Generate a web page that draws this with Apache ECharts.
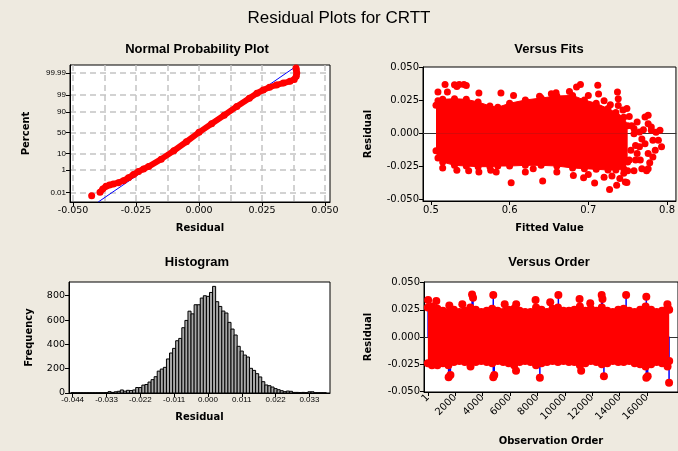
<!DOCTYPE html>
<html><head><meta charset="utf-8">
<script src="https://cdn.jsdelivr.net/npm/echarts@6/dist/echarts.min.js"></script>
<style>html,body{margin:0;padding:0;background:#EEEAE0;}#c{width:678px;height:451px;}</style>
</head><body><div id="c"></div>
<script>
// ---------- Normal probability plot ----------
const probTickPct = [0.01, 1, 10, 50, 90, 99, 99.99];
const probTickLabels = ['0.01', '1', '10', '50', '90', '99', '99.99'];
const residTicks = [-0.05, -0.025, 0, 0.025, 0.05];
const probGridX = [-0.05, -0.0375, -0.025, -0.0125, 0, 0.0125, 0.025, 0.0375, 0.05];
const probLowResid = [-0.0426];
const probLowScore = [-3.91];
const probResid = [-0.0393,-0.0382,-0.0369,-0.0355,-0.0340,-0.0320,-0.0300,-0.0280,-0.0260,-0.0240,-0.0220,-0.0200,-0.0150,-0.0100,-0.0050,0.0000,0.0050,0.0100,0.0150,0.0200,0.0230,0.0255,0.0280,0.0308,0.0335,0.0361,0.0378,0.0386,0.0388,0.0386,0.0385];
const probScore = [-3.70,-3.50,-3.33,-3.24,-3.19,-3.10,-2.98,-2.80,-2.60,-2.40,-2.25,-2.10,-1.64,-1.12,-0.56,0.02,0.55,1.08,1.62,2.14,2.45,2.65,2.82,2.96,3.08,3.19,3.30,3.50,3.70,3.90,4.02];
const fitLineResid = [-0.0400, 0.0393];
const fitLineScore = [-4.30, 4.20];

// ---------- Histogram ----------
const histTicks = [-0.044, -0.033, -0.022, -0.011, 0, 0.011, 0.022, 0.033];
const histFreqTicks = [0, 200, 400, 600, 800];
const histBinWidth = 0.001;
const histBinCenters = [-0.044,-0.043,-0.042,-0.041,-0.040,-0.039,-0.038,-0.037,-0.036,-0.035,-0.034,-0.033,-0.032,-0.031,-0.030,-0.029,-0.028,-0.027,-0.026,-0.025,-0.024,-0.023,-0.022,-0.021,-0.020,-0.019,-0.018,-0.017,-0.016,-0.015,-0.014,-0.013,-0.012,-0.011,-0.010,-0.009,-0.008,-0.007,-0.006,-0.005,-0.004,-0.003,-0.002,-0.001,0.000,0.001,0.002,0.003,0.004,0.005,0.006,0.007,0.008,0.009,0.010,0.011,0.012,0.013,0.014,0.015,0.016,0.017,0.018,0.019,0.020,0.021,0.022,0.023,0.024,0.025,0.026,0.027,0.028,0.029,0.030,0.031,0.032,0.033,0.034,0.035,0.036,0.037,0.038];
const histCounts = [3,2,2,2,2,2,2,2,2,2,2,3,11,5,10,14,25,15,22,20,25,45,45,65,70,90,110,134,180,197,211,280,329,367,430,449,537,597,673,651,726,726,781,800,795,827,877,751,712,674,658,581,526,477,384,345,312,296,203,186,159,132,93,66,60,49,36,27,19,11,16,14,5,5,3,5,3,10,10,2,2,2,2];

// ---------- Versus Fits ----------
const fitsTicks = [0.5, 0.6, 0.7, 0.8];
const fitsEnvX =     [0.5065,0.5090,0.5150,0.5300,0.5450,0.5600,0.5750,0.5850,0.6000,0.6200,0.6400,0.6600,0.6800,0.6950,0.7100,0.7250,0.7350,0.7450,0.7500];
const fitsEnvUpper = [0.0215,0.0250,0.0260,0.0265,0.0260,0.0240,0.0210,0.0200,0.0230,0.0255,0.0270,0.0285,0.0290,0.0255,0.0230,0.0190,0.0160,0.0125,0.0060];
const fitsEnvLower = [-0.0130,-0.0185,-0.0215,-0.0240,-0.0245,-0.0250,-0.0250,-0.0245,-0.0245,-0.0240,-0.0240,-0.0245,-0.0260,-0.0265,-0.0270,-0.0275,-0.0275,-0.0265,-0.0215];
const fitsOutX = [0.509,0.518,0.521,0.530,0.533,0.536,0.542,0.545,0.561,0.589,0.605,0.638,0.653,0.659,0.676,0.685,0.690,0.712,0.713,0.700,0.720,0.728,0.737,0.738,0.738,0.744,0.749,
  0.515,0.533,0.548,0.561,0.576,0.583,0.602,0.620,0.630,0.642,0.660,0.681,0.694,0.700,0.708,0.720,0.727,0.730,0.736,0.740,0.745,0.747,0.749,
  0.750,0.752,0.752,0.754,0.755,0.758,0.758,0.758,0.760,0.760,0.762,0.762,0.765,0.765,0.766,0.768,0.768,0.770,0.772,0.772,0.774,0.776,0.776,0.776,0.776,0.778,0.780,0.780,0.782,0.782,0.785,0.786,0.789,0.791,0.793];
const fitsOutY = [0.0315,0.0373,0.0315,0.0370,0.0358,0.0373,0.0373,0.0364,0.0308,0.0308,0.0290,0.0283,0.0303,0.0310,0.0320,0.0353,0.0373,0.0366,0.0300,0.0290,0.0250,0.0220,0.0315,0.0265,0.0214,0.0180,0.0190,
  -0.0260,-0.0278,-0.0280,-0.0290,-0.0278,-0.0290,-0.0371,-0.0290,-0.0265,-0.0359,-0.0290,-0.0316,-0.0334,-0.0310,-0.0374,-0.0330,-0.0422,-0.0320,-0.0390,-0.0340,-0.0300,-0.0366,-0.0370,
  -0.0280,0.0130,-0.0200,-0.0126,0.0060,0.0000,0.0040,-0.0280,-0.0090,-0.0200,0.0088,-0.0150,0.0012,-0.0100,-0.0200,-0.0265,-0.0040,0.0030,0.0126,-0.0076,-0.0280,0.0139,0.0076,-0.0150,-0.0265,-0.0220,0.0050,0.0025,-0.0050,-0.0177,-0.0126,0.0010,-0.0050,0.0025,-0.0100];

// ---------- Versus Order ----------
const orderTicks = [1, 2000, 4000, 6000, 8000, 10000, 12000, 14000, 16000];
const orderEnvX = [1,300,700,1100,1500,1900,2300,2700,3100,3500,3900,4300,4700,5100,5500,5900,6300,6700,7100,7500,7900,8300,8700,9100,9500,9900,10300,10700,11100,11500,11900,12300,12700,13100,13500,13900,14300,14700,15100,15500,15900,16300,16700,17100,17500,17620];
const orderEnvUpper = [0.027,0.028,0.026,0.024,0.023,0.025,0.023,0.024,0.027,0.025,0.023,0.024,0.026,0.024,0.023,0.025,0.026,0.024,0.023,0.023,0.027,0.025,0.023,0.026,0.027,0.024,0.024,0.025,0.028,0.024,0.026,0.024,0.027,0.024,0.023,0.025,0.026,0.024,0.023,0.025,0.028,0.025,0.023,0.024,0.027,0.025];
const orderEnvLower = [-0.024,-0.026,-0.026,-0.024,-0.026,-0.023,-0.022,-0.023,-0.022,-0.023,-0.022,-0.023,-0.024,-0.022,-0.023,-0.024,-0.026,-0.023,-0.022,-0.023,-0.026,-0.024,-0.023,-0.022,-0.023,-0.022,-0.023,-0.023,-0.026,-0.024,-0.022,-0.023,-0.025,-0.024,-0.022,-0.023,-0.023,-0.022,-0.024,-0.025,-0.027,-0.025,-0.023,-0.024,-0.027,-0.022];
const orderSpikeX = [21,620,1569,2517,3230,3300,4777,5611,6450,7864,8934,9530,11075,11857,12690,12750,14474,15950,17490,1519,1650,3116,4777,4850,6438,8178,11194,12855,15950,16050,17611];
const orderSpikeY = [0.034,0.033,0.029,0.030,0.039,0.036,0.0385,0.030,0.030,0.034,0.032,0.0385,0.035,0.031,0.0385,0.035,0.0385,0.037,0.030,-0.037,-0.035,-0.027,-0.037,-0.035,-0.031,-0.0375,-0.031,-0.036,-0.0375,-0.036,-0.042];
const resid2Ticks = [-0.05, -0.025, 0, 0.025, 0.05];

// ---------- helpers ----------
function invNorm(p){
  const a=[-3.969683028665376e+01,2.209460984245205e+02,-2.759285104469687e+02,1.383577518672690e+02,-3.066479806614716e+01,2.506628277459239e+00];
  const b=[-5.447609879822406e+01,1.615858368580409e+02,-1.556989798598866e+02,6.680131188771972e+01,-1.328068155288572e+01];
  const c=[-7.784894002430293e-03,-3.223964580411365e-01,-2.400758277161838e+00,-2.549671010243010e+00,4.374664141464968e+00,2.938163982698783e+00];
  const d=[7.784695709041462e-03,3.224671290700398e-01,2.445134137142996e+00,3.754408661907416e+00];
  const pl=0.02425, ph=1-pl; let q, r;
  if (p < pl) { q=Math.sqrt(-2*Math.log(p)); return (((((c[0]*q+c[1])*q+c[2])*q+c[3])*q+c[4])*q+c[5])/((((d[0]*q+d[1])*q+d[2])*q+d[3])*q+1); }
  if (p <= ph) { q=p-0.5; r=q*q; return (((((a[0]*r+a[1])*r+a[2])*r+a[3])*r+a[4])*r+a[5])*q/(((((b[0]*r+b[1])*r+b[2])*r+b[3])*r+b[4])*r+1); }
  q=Math.sqrt(-2*Math.log(1-p)); return -(((((c[0]*q+c[1])*q+c[2])*q+c[3])*q+c[4])*q+c[5])/((((d[0]*q+d[1])*q+d[2])*q+d[3])*q+1);
}
const zip = (xs, ys) => xs.map((x, i) => [x, ys[i]]);
const zTicks = probTickPct.map(p => invNorm(p / 100));

const RED = '#ff0000';
const BG = '#EEEAE0';
const TICKF = 'DejaVu Sans';
const SMALLF = 'Liberation Sans';
const nameStyle = {fontFamily: 'DejaVu Sans', fontWeight: 'bold', fontSize: 10, color: '#000'};
const dashed = {show: true, lineStyle: {color: '#c4c4c4', width: 1.5, type: [6, 4]}};
const blackLine = {show: true, onZero: false, lineStyle: {color: '#000', width: 1}};
const tick = (vals) => ({show: true, length: 4, customValues: vals, lineStyle: {color: '#000'}});
const redItem = {color: RED, opacity: 1};

const option = {
  animation: false,
  backgroundColor: BG,
  textStyle: {fontFamily: TICKF},
  grid: [
    {left: 70, top: 65, width: 260, height: 137, show: true, backgroundColor: '#fff', borderColor: '#000', borderWidth: 1},
    {left: 423, top: 67, width: 260, height: 134, show: true, backgroundColor: '#fff', borderColor: '#000', borderWidth: 1},
    {left: 69, top: 282, width: 261, height: 111, show: true, backgroundColor: '#fff', borderColor: '#000', borderWidth: 1},
    {left: 424, top: 282, width: 260, height: 110, show: true, backgroundColor: '#fff', borderColor: '#000', borderWidth: 1}
  ],
  xAxis: [
    {gridIndex: 0, type: 'value', min: -0.0512, max: 0.052, axisLine: blackLine, axisTick: tick(residTicks),
     axisLabel: {customValues: residTicks, formatter: v => v.toFixed(3), color: '#000', fontSize: 9.5, margin: 4},
     splitLine: {show: false}, name: 'Residual', nameLocation: 'middle', nameGap: 21, nameTextStyle: nameStyle},
    {gridIndex: 0, type: 'value', position: 'top', min: -0.0512, max: 0.052, axisLine: {show: false, onZero: false},
     axisTick: {show: false, customValues: probGridX}, axisLabel: {show: false}, splitLine: dashed},
    {gridIndex: 1, type: 'value', min: 0.49, max: 0.8113, axisLine: blackLine, axisTick: tick(fitsTicks),
     axisLabel: {customValues: fitsTicks, formatter: v => v.toFixed(1), color: '#000', fontSize: 10, margin: 4},
     splitLine: {show: false}, name: 'Fitted Value', nameLocation: 'middle', nameGap: 22, nameTextStyle: nameStyle},
    {gridIndex: 1, type: 'value', position: 'top', min: 0.49, max: 0.8113,
     axisLine: {show: true, onZero: true, lineStyle: {color: '#333', width: 1}}, axisTick: {show: false}, axisLabel: {show: false}, splitLine: {show: false}},
    {gridIndex: 2, type: 'value', min: -0.0452, max: 0.0397, axisLine: blackLine, axisTick: tick(histTicks),
     axisLabel: {customValues: histTicks, formatter: v => v.toFixed(3), color: '#000', fontFamily: SMALLF, fontSize: 8, margin: 3},
     splitLine: {show: false}, name: 'Residual', nameLocation: 'middle', nameGap: 19, nameTextStyle: nameStyle},
    {gridIndex: 3, type: 'value', min: -280, max: 18263, axisLine: blackLine, axisTick: tick(orderTicks),
     axisLabel: {customValues: orderTicks, rotate: 45, formatter: v => String(Math.round(v)), color: '#000', fontSize: 10, margin: 4},
     splitLine: {show: false}, name: 'Observation Order', nameLocation: 'middle', nameGap: 44, nameTextStyle: nameStyle},
    {gridIndex: 3, type: 'value', position: 'top', min: -280, max: 18263,
     axisLine: {show: true, onZero: true, lineStyle: {color: '#333', width: 1}}, axisTick: {show: false}, axisLabel: {show: false}, splitLine: {show: false}}
  ],
  yAxis: [
    {gridIndex: 0, type: 'value', min: -4.3, max: 4.2, axisLine: blackLine, axisTick: tick(zTicks),
     axisLabel: {customValues: zTicks, color: '#000', fontFamily: SMALLF, fontSize: 8, margin: 4,
       formatter: v => { const i = zTicks.findIndex(z => Math.abs(z - v) < 1e-6); return i >= 0 ? probTickLabels[i] : ''; }},
     splitLine: dashed, name: 'Percent', nameLocation: 'middle', nameGap: 39, nameTextStyle: nameStyle},
    {gridIndex: 1, type: 'value', min: -0.051, max: 0.0505, axisLine: blackLine, axisTick: tick(resid2Ticks),
     axisLabel: {customValues: resid2Ticks, formatter: v => v.toFixed(3), color: '#000', fontSize: 10, margin: 4},
     splitLine: {show: false}, name: 'Residual', nameLocation: 'middle', nameGap: 50, nameTextStyle: nameStyle},
    {gridIndex: 2, type: 'value', min: 0, max: 913, interval: 200, axisLine: blackLine, axisTick: tick(histFreqTicks),
     axisLabel: {customValues: histFreqTicks, color: '#000', fontSize: 9.5, margin: 4},
     splitLine: {show: false}, name: 'Frequency', nameLocation: 'middle', nameGap: 35, nameTextStyle: nameStyle},
    {gridIndex: 3, type: 'value', min: -0.0505, max: 0.0505, axisLine: blackLine, axisTick: tick(resid2Ticks),
     axisLabel: {customValues: resid2Ticks, formatter: v => v.toFixed(3), color: '#000', fontSize: 10, margin: 4},
     splitLine: {show: false}, name: 'Residual', nameLocation: 'middle', nameGap: 51, nameTextStyle: nameStyle}
  ],
  series: [
    // Normal probability plot
    {type: 'line', xAxisIndex: 0, yAxisIndex: 0, data: zip(fitLineResid, fitLineScore), symbol: 'none',
     lineStyle: {color: '#0000ff', width: 1}, z: 2},
    {type: 'line', xAxisIndex: 0, yAxisIndex: 0, data: zip(probResid, probScore), symbol: 'circle', symbolSize: 7,
     itemStyle: redItem, lineStyle: {color: RED, width: 6}, z: 3},
    {type: 'scatter', xAxisIndex: 0, yAxisIndex: 0, data: zip(probLowResid, probLowScore), symbolSize: 7,
     itemStyle: redItem, z: 3},
    // Versus fits
    {type: 'line', xAxisIndex: 2, yAxisIndex: 1, data: zip(fitsEnvX, fitsEnvUpper), symbol: 'circle', symbolSize: 7,
     itemStyle: redItem, lineStyle: {color: RED, width: 1}, areaStyle: {color: RED, opacity: 1}, z: 3},
    {type: 'line', xAxisIndex: 2, yAxisIndex: 1, data: zip(fitsEnvX, fitsEnvLower), symbol: 'circle', symbolSize: 7,
     itemStyle: redItem, lineStyle: {color: RED, width: 1}, areaStyle: {color: RED, opacity: 1}, z: 3},
    {type: 'scatter', xAxisIndex: 2, yAxisIndex: 1, data: zip(fitsOutX, fitsOutY), symbolSize: 7,
     itemStyle: redItem, z: 3},
    // Histogram
    {type: 'custom', xAxisIndex: 4, yAxisIndex: 2, data: zip(histBinCenters, histCounts), z: 3,
     renderItem: (params, api) => {
       const c = api.value(0), n = api.value(1);
       const p0 = api.coord([c - histBinWidth / 2, n]);
       const p1 = api.coord([c + histBinWidth / 2, 0]);
       return {type: 'rect', shape: {x: p0[0], y: p0[1], width: p1[0] - p0[0], height: p1[1] - p0[1]},
               style: {fill: '#a8a8a8', stroke: '#000', lineWidth: 1}};
     }},
    // Versus order
    {type: 'line', xAxisIndex: 5, yAxisIndex: 3, symbol: 'none', lineStyle: {color: '#0000ff', width: 1.5}, z: 2,
     data: orderSpikeX.flatMap((x, i) => [[x, 0], [x, orderSpikeY[i]], [x, 0]])},
    {type: 'line', xAxisIndex: 5, yAxisIndex: 3, data: zip(orderEnvX, orderEnvUpper), symbol: 'circle', symbolSize: 8,
     itemStyle: redItem, lineStyle: {color: RED, width: 1}, areaStyle: {color: RED, opacity: 1}, z: 3},
    {type: 'line', xAxisIndex: 5, yAxisIndex: 3, data: zip(orderEnvX, orderEnvLower), symbol: 'circle', symbolSize: 8,
     itemStyle: redItem, lineStyle: {color: RED, width: 1}, areaStyle: {color: RED, opacity: 1}, z: 3},
    {type: 'scatter', xAxisIndex: 5, yAxisIndex: 3, data: zip(orderSpikeX, orderSpikeY), symbolSize: 8,
     itemStyle: redItem, z: 4}
  ],
  graphic: [
    {type: 'text', x: 339, y: 18, style: {text: 'Residual Plots for CRTT', font: '17px "Liberation Sans"', fill: '#000', textAlign: 'center', textVerticalAlign: 'middle', align: 'center', verticalAlign: 'middle'}},
    {type: 'text', x: 197, y: 49, style: {text: 'Normal Probability Plot', font: 'bold 13px "Liberation Sans"', fill: '#000', textAlign: 'center', textVerticalAlign: 'middle', align: 'center', verticalAlign: 'middle'}},
    {type: 'text', x: 549, y: 49, style: {text: 'Versus Fits', font: 'bold 13px "Liberation Sans"', fill: '#000', textAlign: 'center', textVerticalAlign: 'middle', align: 'center', verticalAlign: 'middle'}},
    {type: 'text', x: 197, y: 262, style: {text: 'Histogram', font: 'bold 13px "Liberation Sans"', fill: '#000', textAlign: 'center', textVerticalAlign: 'middle', align: 'center', verticalAlign: 'middle'}},
    {type: 'text', x: 549, y: 262, style: {text: 'Versus Order', font: 'bold 13px "Liberation Sans"', fill: '#000', textAlign: 'center', textVerticalAlign: 'middle', align: 'center', verticalAlign: 'middle'}}
  ]
};
const chart = echarts.init(document.getElementById('c'), null, {renderer: 'canvas'});
chart.setOption(option);
</script></body></html>
